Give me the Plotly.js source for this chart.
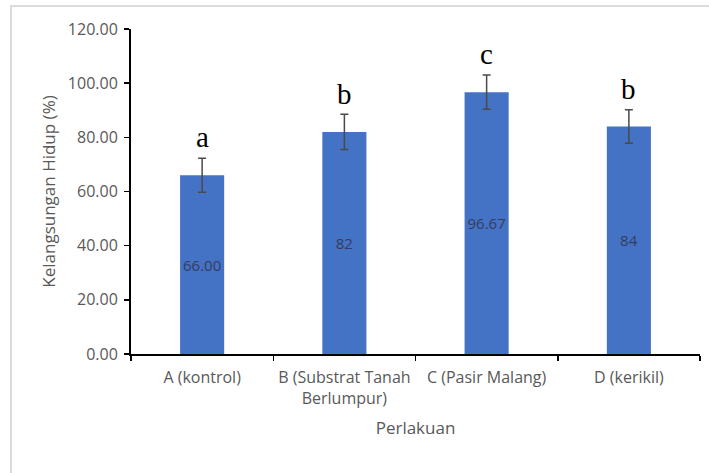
<!DOCTYPE html>
<html>
<head>
<meta charset="utf-8">
<script src="https://cdn.plot.ly/plotly-3.0.1.min.js"></script>
<style>
  html, body { margin: 0; padding: 0; background: #fff; }
  #frame { position: absolute; left: 10px; top: 5px; width: 699px; height: 468px;
           border-left: 2px solid #dcdcdc; border-top: 2px solid #dcdcdc; box-sizing: border-box; }
  #chart { position: absolute; left: 0; top: 0; width: 709px; height: 473px; }
</style>
</head>
<body>
<div id="frame"></div>
<div id="chart"></div>
<script>
const categories = ['A (kontrol)', 'B (Substrat Tanah<br>Berlumpur)', 'C (Pasir Malang)', 'D (kerikil)'];
const survival = [66.00, 82, 96.67, 84];
const valueLabels = ['66.00', '82', '96.67', '84'];
const errors = [6.3, 6.5, 6.3, 6.2];
const letters = ['a', 'b', 'c', 'b'];
const yTicks = [0, 20, 40, 60, 80, 100, 120];
const yTickText = yTicks.map(v => v.toFixed(2));

const trace = {
  type: 'bar',
  x: categories,
  y: survival,
  width: 0.31,
  marker: { color: '#4472C4' },
  text: valueLabels,
  textposition: 'inside',
  insidetextanchor: 'middle',
  textangle: 0,
  constraintext: 'none',
  textfont: { family: 'Open Sans, sans-serif', size: 15, color: '#343d5e' },
  error_y: { type: 'data', array: errors, visible: true, color: '#4a4a4a', thickness: 1.5, width: 4 },
  hoverinfo: 'none'
};

const annotations = letters.map((t, i) => ({
  x: categories[i], y: survival[i] + errors[i] + 1, xref: 'x', yref: 'y',
  text: t, showarrow: false, yanchor: 'bottom',
  font: { family: 'Liberation Serif, serif', size: 29, color: '#000' }
}));

const layout = {
  width: 709, height: 473,
  margin: { l: 131, r: 9, t: 29, b: 119 },
  paper_bgcolor: 'rgba(0,0,0,0)',
  plot_bgcolor: 'rgba(0,0,0,0)',
  showlegend: false,
  bargap: 0.69,
  xaxis: {
    type: 'category',
    showline: true, linecolor: '#000', linewidth: 2,
    ticks: 'outside', tickson: 'boundaries', ticklen: 5, tickcolor: '#000', tickwidth: 1.5,
    ticklabelstandoff: 8,
    tickfont: { family: 'Open Sans, sans-serif', size: 16, color: '#595959' },
    showgrid: false, zeroline: false,
    title: { text: 'Perlakuan', font: { family: 'Open Sans, sans-serif', size: 17, color: '#595959' }, standoff: 14 }
  },
  yaxis: {
    range: [0, 120],
    tickvals: yTicks, ticktext: yTickText,
    showline: true, linecolor: '#000', linewidth: 2,
    ticks: 'outside', ticklen: 5, tickcolor: '#000', tickwidth: 1.5,
    ticklabelstandoff: 3,
    tickfont: { family: 'Open Sans, sans-serif', size: 16, color: '#595959' },
    showgrid: false, zeroline: false,
    title: { text: 'Kelangsungan Hidup (%)', font: { family: 'Open Sans, sans-serif', size: 17, color: '#595959' }, standoff: 8 }
  },
  annotations: annotations
};

Plotly.newPlot('chart', [trace], layout, { displayModeBar: false, staticPlot: true });
</script>
</body>
</html>
